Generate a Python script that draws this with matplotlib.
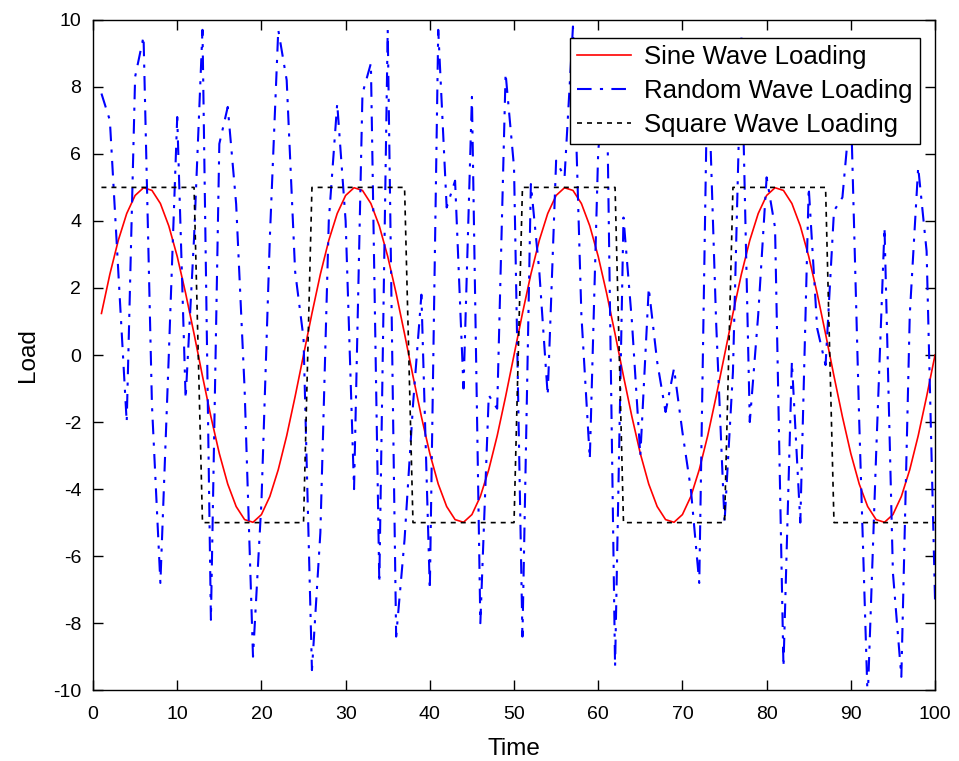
import matplotlib
matplotlib.use("Agg")
import matplotlib.pyplot as plt

plt.rcParams['font.family'] = ['Liberation Sans', 'DejaVu Sans']
plt.rcParams['axes.unicode_minus'] = False

time = list(range(1, 101))

# sine loading (period 25, amplitude 5)
sine_period = [1.24, 2.41, 3.42, 4.22, 4.76, 4.99, 4.91, 4.52, 3.85, 2.94, 1.84, 0.63,
               -0.63, -1.84, -2.94, -3.85, -4.52, -4.91, -4.99, -4.76, -4.22, -3.42,
               -2.41, -1.24, 0.00]
sine_load = sine_period * 4

square_period = [5] * 12 + [-5] * 13
square_load = square_period * 4

random_load = [
    7.8, 7.0, 2.5, -2.0, 8.3, 9.5, -1.5, -6.8, 0.0, 7.1,
    -1.3, 3.5, 9.7, -7.9, 6.3, 7.4, 4.5, -1.0, -9.0, -4.4,
    3.5, 9.7, 8.2, 2.5, 0.5, -9.4, -5.3, 4.0, 7.5, 4.0,
    -4.0, 7.8, 8.7, -6.8, 9.7, -8.4, -5.5, -1.5, 1.8, -7.0,
    9.7, 4.4, 5.2, -1.0, 7.7, -8.0, -1.2, -1.6, 8.4, 5.6,
    -8.4, 5.1, 2.5, -1.2, 5.8, 5.3, 9.8, 1.2, -3.1, 6.1,
    8.5, -9.3, 4.1, 1.0, -3.0, 2.0, -0.2, -1.7, -0.4, -2.3,
    -4.0, -6.8, 9.0, 1.0, -5.0, -0.5, 9.5, -2.0, 1.2, 5.3,
    3.8, -9.3, -0.2, -5.0, 5.0, 0.8, -0.3, 4.3, 4.7, 7.5,
    -2.0, -10.3, -3.0, 3.8, -6.5, -9.6, 1.2, 5.6, 3.1, -7.3,
]

fig = plt.figure(figsize=(9.59, 7.61), dpi=100)
ax = fig.add_axes([0.097, 0.093, 0.878, 0.881])

ax.plot(time, sine_load, color='red', lw=1.2, label='Sine Wave Loading')
ax.plot(time, random_load, color='blue', lw=1.5, linestyle=(0, (7, 4, 1.5, 4)),
        label='Random Wave Loading')
ax.plot(time, square_load, color='black', lw=1.2, linestyle=(0, (3, 3)),
        label='Square Wave Loading')

ax.set_xlim(0, 100)
ax.set_ylim(-10, 10)
ax.set_xticks(range(0, 101, 10))
ax.set_yticks(range(-10, 11, 2))
ax.tick_params(direction='in', length=7, width=1, top=True, right=True,
               labelsize=14)
ax.tick_params(axis='x', pad=11)
ax.tick_params(axis='y', pad=8.5)
for s in ax.spines.values():
    s.set_linewidth(1.0)

ax.set_xlabel('Time', fontsize=17.5, labelpad=11)
ax.set_ylabel('Load', fontsize=17.5, labelpad=10)

leg = ax.legend(loc='upper right', bbox_to_anchor=(0.982, 0.973), fontsize=18.5,
                fancybox=False, framealpha=1, edgecolor='black',
                handlelength=2.1, borderaxespad=0, borderpad=0.28,
                labelspacing=0.38, handletextpad=0.5)
leg.get_frame().set_linewidth(1.0)

fig.savefig('out.png', dpi=100)
